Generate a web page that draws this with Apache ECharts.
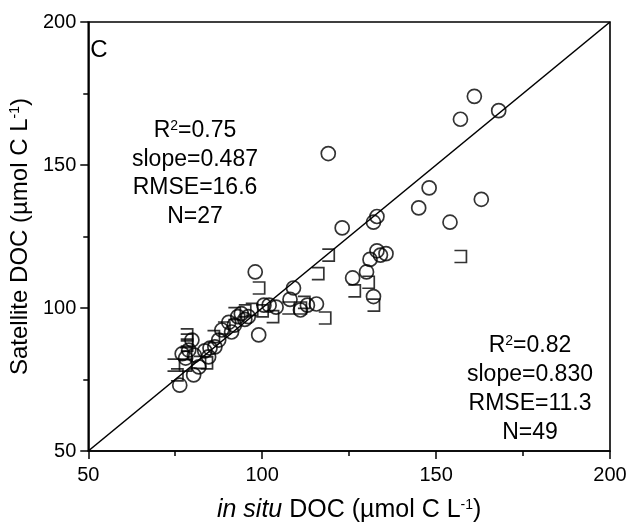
<!DOCTYPE html>
<html><head><meta charset="utf-8">
<script src="https://cdn.jsdelivr.net/npm/echarts@6/dist/echarts.min.js"></script>
<style>html,body{margin:0;padding:0;background:#fff}#c{width:634px;height:531px}</style>
</head><body><div id="c"></div>
<script>
// in situ DOC (x) vs Satellite DOC (y), circles
const circleX = [161,157,168,148,163,145,154,119,133,132,123,133,134,135.6,131,130,126,132,109,102,104,108,111,113,115.6,98,99,94,96,90.4,88.4,91.2,87.5,86.4,84.6,79.8,78.9,77,78,80.5,80.3,76.3,81.8,92,95,83.5,100.5,85,93];
const circleY = [174,166,169,142,138,135,130,154,132,130,128,120,118.5,119,117,112.6,110.5,104,107,101,100.3,103,99.3,101,101.4,112.6,90.6,98,97,95,92.3,91.6,88.8,86.4,82.9,88.8,85.3,84,82.5,83.5,76.6,73,79.4,94,96,85,101,86,97];
// squares (open on the left)
const squareX = [157,119,116,118,130.5,126.5,132,103,107.5,99,92,97,86,84,78.3,78.3,78.3,75.5,78,111,95,89,78,82,112,100,74.5];
const squareY = [118,118.5,112,96.5,109,106,101,97,100,107,98,99.5,90,80.8,90.6,88.8,87,76.6,80,100,99,93,84,81,102,99,80];
const oneToOne = [[50,50],[200,200]];
const axisMin = 50, axisMax = 200;
const statsA = ['R{sup|2}=0.75','slope=0.487','RMSE=16.6','N=27'];
const statsB = ['R{sup|2}=0.82','slope=0.830','RMSE=11.3','N=49'];

const font = 'Liberation Sans, Arial, sans-serif';
const chart = echarts.init(document.getElementById('c'));
const zip = (a,b) => a.map((v,i)=>[v,b[i]]);
const nameStyle = (fs) => ({color:'#000', fontSize:fs, fontFamily:font,
    rich: {i:{fontStyle:'italic', fontSize:fs, fontFamily:font, color:'#000'},
           sup:{fontSize:14, fontFamily:font, color:'#000', verticalAlign:'top'}}});
const axisCommon = {
  min: axisMin, max: axisMax, interval: 50,
  axisLine: {lineStyle: {color:'#000', width:1.6}},
  axisTick: {length: 8, lineStyle: {color:'#000', width:1.5}},
  minorTick: {show:true, splitNumber:2, length:5, lineStyle:{color:'#000', width:1.5}},
  splitLine: {show:false},
  nameLocation: 'middle'
};
function txt(t, x, y, fs) {
  return {type:'text', x:x, y:y, style:{text:t, textAlign:'center', textVerticalAlign:'middle',
    fontSize:fs, fontFamily:font, fill:'#000', rich:{sup:{fontSize:14, fontFamily:font, fill:'#000', verticalAlign:'top'}}}};
}
const graphics = [];
statsA.forEach((t,i)=>graphics.push(txt(t, 195, 131+i*28.5, 23)));
statsB.forEach((t,i)=>graphics.push(txt(t, 530, 346+i*29, 23)));
graphics.push(txt('C', 99, 50, 24));

chart.setOption({
  animation:false,
  grid: {left:86, right:24, top:22, bottom:80, show:true, borderColor:'#000', borderWidth:1.6},
  xAxis: Object.assign({}, axisCommon, {type:'value', name:'{i|in situ} DOC (µmol C L{sup|-1})', nameGap:47,
    nameTextStyle: nameStyle(25),
    axisLabel:{color:'#000', fontSize:20, fontFamily:font, margin:14}}),
  yAxis: Object.assign({}, axisCommon, {type:'value', name:'Satellite DOC (µmol C L{sup|-1})', nameGap:52,
    nameTextStyle: nameStyle(24),
    axisLabel:{color:'#000', fontSize:20, fontFamily:font, margin:12}}),
  graphic: graphics,
  series: [
    {type:'line', data:oneToOne, symbol:'none', lineStyle:{color:'#000', width:1.6}, z:1},
    {type:'scatter', data:zip(squareX, squareY), symbol:'path://M0,0L10,0L10,10L0,10', symbolSize:[12,12],
      itemStyle:{color:'none', borderColor:'#000', borderWidth:1.7}, z:3},
    {type:'scatter', data:zip(circleX, circleY), symbol:'circle', symbolSize:14,
      itemStyle:{color:'none', borderColor:'#000', borderWidth:1.7}, z:4}
  ]
});
</script></body></html>
